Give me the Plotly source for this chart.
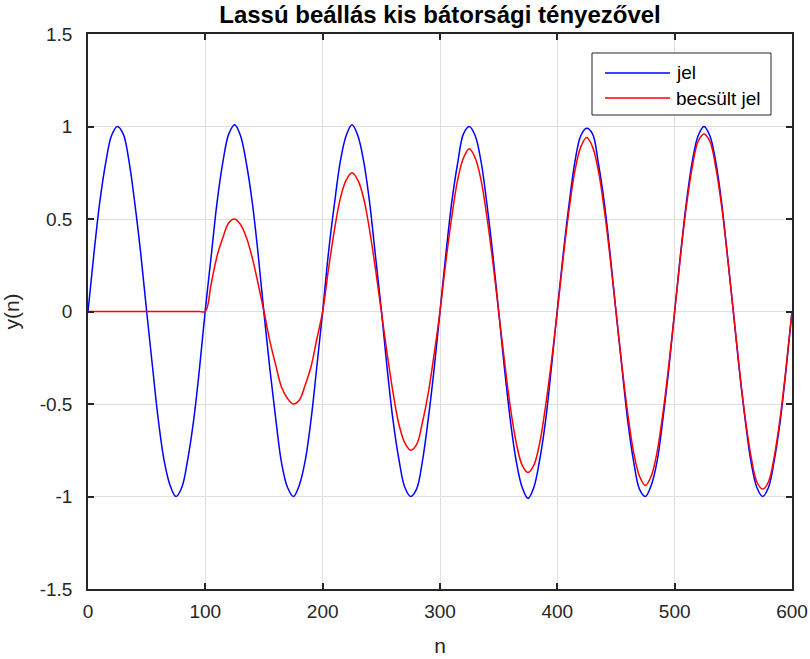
import plotly.graph_objects as go

# Sample index (every 5th sample of the 0..600 record)
n = list(range(0, 601, 5))

# Measured signal "jel"
jel = [
    0.00, 0.31, 0.59, 0.80, 0.95, 1.00, 0.96, 0.81, 0.58, 0.31,
    0.00, -0.30, -0.59, -0.81, -0.94, -1.00, -0.95, -0.80, -0.59, -0.31,
    0.01, 0.30, 0.59, 0.81, 0.96, 1.01, 0.95, 0.80, 0.59, 0.31,
    -0.01, -0.31, -0.58, -0.82, -0.95, -1.00, -0.94, -0.81, -0.59, -0.30,
    0.00, 0.32, 0.58, 0.81, 0.95, 1.01, 0.95, 0.81, 0.59, 0.30,
    0.01, -0.31, -0.59, -0.80, -0.95, -1.00, -0.96, -0.81, -0.58, -0.31,
    0.00, 0.31, 0.59, 0.80, 0.96, 1.00, 0.95, 0.81, 0.58, 0.31,
    0.00, -0.31, -0.59, -0.81, -0.95, -1.01, -0.95, -0.80, -0.59, -0.30,
    0.01, 0.31, 0.58, 0.81, 0.95, 0.99, 0.96, 0.80, 0.59, 0.31,
    0.00, -0.30, -0.59, -0.81, -0.96, -1.00, -0.94, -0.81, -0.58, -0.31,
    0.00, 0.31, 0.59, 0.81, 0.95, 1.00, 0.95, 0.81, 0.59, 0.30,
    0.00, -0.31, -0.58, -0.81, -0.95, -1.00, -0.95, -0.80, -0.59, -0.31,
    0.00,
]

# Estimated signal "becsült jel"
becsult = [
    0.00, 0.00, 0.00, 0.00, 0.00, 0.00, 0.00, 0.00, 0.00, 0.00,
    0.00, 0.00, 0.00, 0.00, 0.00, 0.00, 0.00, 0.00, 0.00, 0.00,
    0.00, 0.15, 0.30, 0.40, 0.48, 0.50, 0.47, 0.40, 0.29, 0.15,
    0.00, -0.16, -0.29, -0.41, -0.47, -0.50, -0.48, -0.40, -0.30, -0.15,
    0.00, 0.23, 0.44, 0.61, 0.71, 0.75, 0.71, 0.61, 0.44, 0.23,
    0.00, -0.23, -0.44, -0.61, -0.71, -0.75, -0.72, -0.60, -0.44, -0.23,
    0.00, 0.27, 0.51, 0.71, 0.83, 0.88, 0.83, 0.71, 0.51, 0.27,
    0.00, -0.27, -0.52, -0.71, -0.83, -0.87, -0.83, -0.71, -0.51, -0.27,
    0.00, 0.29, 0.55, 0.76, 0.89, 0.94, 0.89, 0.76, 0.55, 0.29,
    0.00, -0.29, -0.55, -0.76, -0.89, -0.94, -0.89, -0.76, -0.55, -0.29,
    0.00, 0.30, 0.57, 0.78, 0.92, 0.96, 0.92, 0.78, 0.57, 0.30,
    0.00, -0.30, -0.57, -0.78, -0.92, -0.96, -0.92, -0.78, -0.57, -0.30,
    0.00,
]

series_names = ["jel", "becsült jel"]
series_colors = ["#0000ff", "#ff0000"]

x_ticks = [0, 100, 200, 300, 400, 500, 600]
y_ticks = [-1.5, -1, -0.5, 0, 0.5, 1, 1.5]
y_tick_text = ["-1.5", "-1", "-0.5", "0", "0.5", "1", "1.5"]

FONT = "Liberation Sans, Arial, sans-serif"
AXIS_COLOR = "#262626"
GRID_COLOR = "#dfdfdf"

W, H = 810, 659
ML, MR, MT, MB = 88, 18, 34, 70
PW, PH = W - ML - MR, H - MT - MB


def px_x(p):
    """Pixel column -> paper x."""
    return (p - ML) / PW


def px_y(p):
    """Pixel row -> paper y."""
    return (H - MB - p) / PH


fig = go.Figure()
for name, ys, col in zip(series_names, [jel, becsult], series_colors):
    fig.add_trace(go.Scatter(x=n, y=ys, mode="lines", name=name, showlegend=False,
                             line=dict(color=col, width=1.5, shape="spline", smoothing=1)))

axis_common = dict(
    showline=True, linecolor=AXIS_COLOR, linewidth=1.5, mirror="ticks",
    ticks="inside", ticklen=6, tickwidth=1.5, tickcolor=AXIS_COLOR,
    showgrid=True, gridcolor=GRID_COLOR, gridwidth=1, zeroline=False,
    tickfont=dict(family=FONT, size=19, color=AXIS_COLOR),
    automargin=False,
)

# Boxed legend with long line samples
shapes = [dict(type="rect", xref="paper", yref="paper",
               x0=px_x(592), x1=px_x(771), y0=px_y(115), y1=px_y(53),
               line=dict(color=AXIS_COLOR, width=1), fillcolor="white", layer="above")]
annotations = []
for i, (name, col) in enumerate(zip(series_names, series_colors)):
    row = 73 + 25 * i
    shapes.append(dict(type="line", xref="paper", yref="paper",
                       x0=px_x(605), x1=px_x(670), y0=px_y(row), y1=px_y(row),
                       line=dict(color=col, width=1.5), layer="above"))
    annotations.append(dict(text=name, xref="paper", yref="paper",
                            x=px_x(674), y=px_y(row), xanchor="left", yanchor="middle",
                            showarrow=False,
                            font=dict(family=FONT, size=19, color="black")))

fig.update_layout(
    width=W, height=H,
    margin=dict(l=ML, r=MR, t=MT, b=MB),
    paper_bgcolor="white", plot_bgcolor="white",
    title=dict(text="<b>Lassú beállás kis bátorsági tényezővel</b>",
               x=(ML + W - MR) / 2 / W, xanchor="center", y=1 - 15 / H, yanchor="middle",
               font=dict(family=FONT, size=24, color="black")),
    xaxis=dict(range=[0, 600], tickvals=x_ticks, ticklabelstandoff=4,
               title=dict(text="n", font=dict(family=FONT, size=21, color=AXIS_COLOR), standoff=18),
               **axis_common),
    yaxis=dict(range=[-1.5, 1.5], tickvals=y_ticks, ticktext=y_tick_text, ticklabelstandoff=10,
               title=dict(text="y(n)", font=dict(family=FONT, size=21, color=AXIS_COLOR), standoff=14),
               **axis_common),
    shapes=shapes,
    annotations=annotations,
    showlegend=False,
)

fig.write_html("out.html")
